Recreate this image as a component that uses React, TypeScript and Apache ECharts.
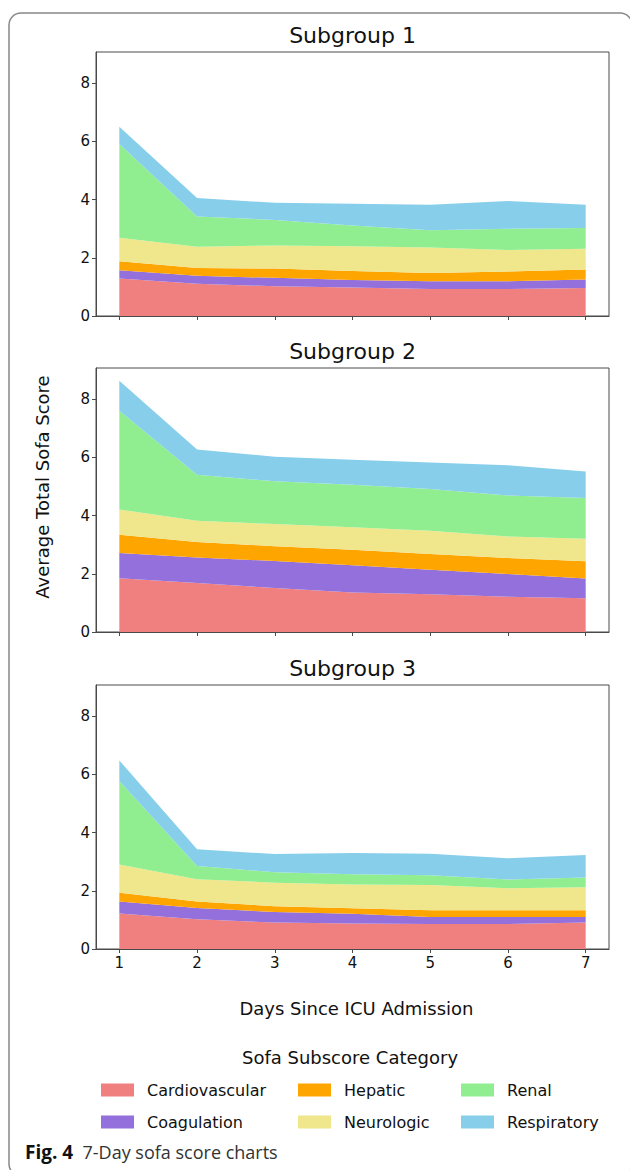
import React, { useEffect, useRef } from "react";
import * as echarts from "echarts";

const days = [1, 2, 3, 4, 5, 6, 7];
const categories = ["Cardiovascular", "Coagulation", "Hepatic", "Neurologic", "Renal", "Respiratory"];
const colors = ["#F08080", "#9370DB", "#FFA500", "#F0E68C", "#90EE90", "#87CEEB"];
const subgroupTitles = ["Subgroup 1", "Subgroup 2", "Subgroup 3"];
const yTicks = [0, 2, 4, 6, 8];

// Subgroup 1
const s1Cardiovascular = [1.29, 1.11, 1.02, 0.98, 0.93, 0.93, 0.96];
const s1Coagulation = [0.28, 0.27, 0.29, 0.26, 0.26, 0.26, 0.29];
const s1Hepatic = [0.31, 0.27, 0.32, 0.31, 0.29, 0.34, 0.35];
const s1Neurologic = [0.81, 0.73, 0.79, 0.85, 0.87, 0.74, 0.71];
const s1Renal = [3.22, 1.04, 0.88, 0.71, 0.6, 0.73, 0.71];
const s1Respiratory = [0.59, 0.63, 0.59, 0.75, 0.87, 0.95, 0.8];

// Subgroup 2
const s2Cardiovascular = [1.85, 1.68, 1.51, 1.36, 1.3, 1.21, 1.16];
const s2Coagulation = [0.86, 0.88, 0.93, 0.93, 0.84, 0.78, 0.68];
const s2Hepatic = [0.63, 0.53, 0.51, 0.54, 0.54, 0.55, 0.59];
const s2Neurologic = [0.87, 0.73, 0.76, 0.77, 0.8, 0.74, 0.77];
const s2Renal = [3.39, 1.58, 1.47, 1.46, 1.43, 1.41, 1.4];
const s2Respiratory = [1.03, 0.87, 0.84, 0.86, 0.91, 1.04, 0.91];

// Subgroup 3
const s3Cardiovascular = [1.22, 1.02, 0.91, 0.88, 0.86, 0.86, 0.91];
const s3Coagulation = [0.41, 0.39, 0.36, 0.33, 0.24, 0.24, 0.19];
const s3Hepatic = [0.3, 0.22, 0.2, 0.19, 0.23, 0.23, 0.23];
const s3Neurologic = [0.97, 0.77, 0.81, 0.82, 0.87, 0.76, 0.79];
const s3Renal = [2.87, 0.45, 0.36, 0.35, 0.33, 0.3, 0.34];
const s3Respiratory = [0.71, 0.58, 0.62, 0.73, 0.74, 0.73, 0.77];

const subgroups = [
  [s1Cardiovascular, s1Coagulation, s1Hepatic, s1Neurologic, s1Renal, s1Respiratory],
  [s2Cardiovascular, s2Coagulation, s2Hepatic, s2Neurologic, s2Renal, s2Respiratory],
  [s3Cardiovascular, s3Coagulation, s3Hepatic, s3Neurologic, s3Renal, s3Respiratory],
];

const FONT = "DejaVu Sans";
const SPINE = "#4a4a4a";
const gridLeft = 96;
const gridWidth = 513;
const gridTops = [52, 368, 685];
const gridHeight = 264;

export default function App() {
  const ref = useRef<HTMLDivElement>(null);

  useEffect(() => {
    if (!ref.current) return;
    const chart = echarts.init(ref.current, null, { renderer: "svg" });

    const grids = gridTops.map((top) => ({
      left: gridLeft,
      top,
      width: gridWidth,
      height: gridHeight,
      show: true,
      borderColor: SPINE,
      borderWidth: 1,
      backgroundColor: "transparent",
    }));

    const xAxes = gridTops.map((_, i) => ({
      type: "value",
      gridIndex: i,
      min: 0.7,
      max: 7.3,
      z: 5,
      axisLine: { show: true, onZero: false, lineStyle: { color: SPINE, width: 1 } },
      axisTick: { show: true, length: 4, customValues: days, lineStyle: { color: SPINE } },
      axisLabel: {
        show: i === 2,
        customValues: days,
        fontFamily: FONT,
        fontSize: 15,
        color: "#111",
        margin: 6,
      },
      splitLine: { show: false },
    }));

    const yAxes = gridTops.map((_, i) => ({
      type: "value",
      gridIndex: i,
      min: 0,
      max: 9.07,
      z: 5,
      axisLine: { show: true, lineStyle: { color: SPINE, width: 1 } },
      axisTick: { show: true, length: 4, customValues: yTicks, lineStyle: { color: SPINE } },
      axisLabel: {
        customValues: yTicks,
        fontFamily: FONT,
        fontSize: 15,
        color: "#111",
        margin: 6,
      },
      splitLine: { show: false },
    }));

    const series: any[] = [];
    subgroups.forEach((group, gi) => {
      group.forEach((vals, ci) => {
        series.push({
          type: "line",
          name: categories[ci],
          xAxisIndex: gi,
          yAxisIndex: gi,
          stack: "sg" + gi,
          symbol: "none",
          showSymbol: false,
          lineStyle: { width: 0 },
          itemStyle: { color: colors[ci] },
          areaStyle: { color: colors[ci], opacity: 1 },
          // score first so that the stack is applied to the score (y) dimension
          dimensions: ["score", "day"],
          encode: { x: 1, y: 0 },
          data: days.map((d, k) => [vals[k], d]),
        });
      });
    });

    const legendCols = [101, 298, 461];
    const legendRows = [1082, 1114];
    const legends = categories.map((name, i) => ({
      data: [name],
      left: legendCols[Math.floor(i / 2)],
      top: legendRows[i % 2],
      padding: 0,
      icon: "rect",
      itemWidth: 33,
      itemHeight: 13,
      itemStyle: { borderWidth: 0 },
      selectedMode: false,
      textStyle: { fontFamily: FONT, fontSize: 16, color: "#111", padding: [0, 0, 0, 8] },
    }));

    const titles = subgroupTitles.map((t, i) => ({
      text: t,
      left: gridLeft + gridWidth / 2,
      top: gridTops[i] - 28,
      textAlign: "center",
      padding: 0,
      textStyle: { fontFamily: FONT, fontSize: 22, fontWeight: "normal", color: "#111" },
    }));

    chart.setOption({
      animation: false,
      title: titles,
      grid: grids,
      xAxis: xAxes,
      yAxis: yAxes,
      legend: legends,
      series,
      graphic: [
        {
          type: "rect",
          shape: { x: 9, y: 13, width: 623, height: 1163, r: 12 },
          style: { fill: "none", stroke: "#888", lineWidth: 1.5 },
          silent: true,
        },
        {
          type: "text",
          x: 42,
          y: 487,
          rotation: Math.PI / 2,
          style: {
            text: "Average Total Sofa Score",
            fontFamily: FONT,
            fontSize: 18,
            fill: "#111",
            align: "center",
            verticalAlign: "middle",
          },
        },
        {
          type: "text",
          x: gridLeft + gridWidth / 2 + 4,
          y: 1008,
          style: {
            text: "Days Since ICU Admission",
            fontFamily: FONT,
            fontSize: 18,
            fill: "#111",
            align: "center",
            verticalAlign: "middle",
          },
        },
        {
          type: "text",
          x: 350,
          y: 1057,
          style: {
            text: "Sofa Subscore Category",
            fontFamily: FONT,
            fontSize: 18,
            fill: "#111",
            align: "center",
            verticalAlign: "middle",
          },
        },
        {
          type: "text",
          x: 25,
          y: 1152,
          style: {
            text: "{b|Fig. 4}  7-Day sofa score charts",
            fontFamily: "Open Sans",
            fontSize: 18,
            fill: "#333",
            verticalAlign: "middle",
            rich: {
              b: { fontFamily: "Open Sans", fontSize: 19, fontWeight: "bold", fill: "#111" },
            },
          },
        },
      ],
    });

    return () => chart.dispose();
  }, []);

  return (
    <div
      ref={ref}
      style={{ position: "absolute", left: 0, top: 0, width: 630, height: 1170 }}
    />
  );
}
